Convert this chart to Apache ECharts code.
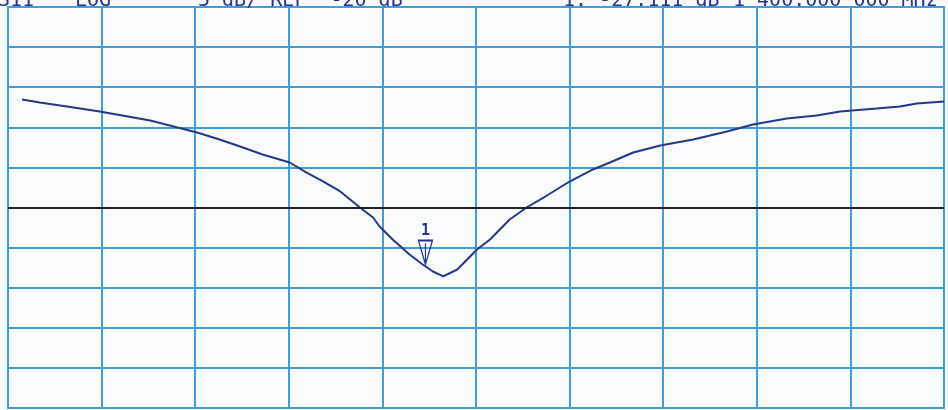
<!DOCTYPE html>
<html>
<head>
<meta charset="utf-8">
<script src="https://cdn.jsdelivr.net/npm/echarts@6/dist/echarts.min.js"></script>
<style>
  html, body { margin: 0; padding: 0; background: #f9fbfd; }
  #chart { width: 948px; height: 410px; }
</style>
</head>
<body>
<div id="chart"></div>
<script>
// horizontal position in graticule divisions (0..10), level in dB
var traceX = [0.15, 0.34, 0.63, 0.98, 1.52, 2.02, 2.26, 2.48, 2.72, 3.01, 3.19, 3.37, 3.55, 3.76, 3.90,
  3.97, 4.11, 4.29, 4.43, 4.54, 4.65, 4.80, 5.01, 5.15, 5.36, 5.54, 5.74, 6.00, 6.25, 6.43,
  6.68, 6.97, 7.32, 7.68, 7.96, 8.32, 8.64, 8.89, 9.28, 9.53, 9.71, 10.0];
var traceDb = [-6.53, -6.91, -7.41, -8.03, -9.15, -10.65, -11.52, -12.39, -13.39, -14.39, -15.64, -16.76, -18.0, -20.0, -21.25,
  -22.37, -23.99, -25.86, -27.11, -27.98, -28.6, -27.73, -25.24, -23.99, -21.5, -20.0, -18.63, -16.76, -15.26, -14.39,
  -13.14, -12.27, -11.52, -10.52, -9.65, -8.9, -8.53, -8.03, -7.66, -7.41, -7.03, -6.78];
var refLevel = -20;
var marker1 = [4.46, -27.111];
var headerTexts = [
  { text: 'S11', x: -2 },
  { text: 'LOG', x: 75 },
  { text: '5 dB/ REF  -20 dB', x: 198 },
  { text: '1: -27.111 dB', x: 563 },
  { text: '1 400.000 000 MHz', x: 733 }
];

var ink = '#24378a';
var gridBlue = '#3f9de0';

var chart = echarts.init(document.getElementById('chart'));

var pts = traceX.map(function (x, i) { return [x, traceDb[i]]; });

chart.setOption({
  backgroundColor: '#f9fbfd',
  animation: false,
  grid: {
    left: 8, right: 4, top: 7, bottom: 2,
    show: true,
    borderColor: gridBlue,
    borderWidth: 2
  },
  xAxis: {
    type: 'value',
    min: 0, max: 10, interval: 1,
    axisLine: { show: false },
    axisTick: { show: false },
    axisLabel: { show: false },
    splitLine: { lineStyle: { color: gridBlue, width: 2 } }
  },
  yAxis: {
    type: 'value',
    min: -45, max: 5, interval: 5,
    axisLine: { show: false },
    axisTick: { show: false },
    axisLabel: { show: false },
    splitLine: { lineStyle: { color: gridBlue, width: 2 } }
  },
  graphic: headerTexts.map(function (h) {
    return {
      type: 'text',
      left: h.x,
      top: -9,
      style: {
        text: h.text,
        font: '20px "DejaVu Sans Mono", monospace',
        fill: ink
      },
      z: 10
    };
  }),
  series: [{
    type: 'line',
    data: pts,
    showSymbol: false,
    smooth: false,
    lineStyle: { color: ink, width: 2 },
    markLine: {
      silent: true,
      symbol: ['none', 'none'],
      label: { show: false },
      lineStyle: { color: '#222', width: 2, type: 'solid' },
      data: [{ yAxis: refLevel }]
    },
    markPoint: {
      symbol: 'path://M0,0 L14,0 L7,24 Z M7,3 L7,24',
      symbolSize: [14, 24],
      symbolOffset: [0, -12],
      itemStyle: { color: 'rgba(0,0,0,0)', borderColor: ink, borderWidth: 1.5 },
      label: {
        show: true,
        position: 'top',
        distance: 1,
        formatter: '1',
        color: ink,
        fontFamily: 'DejaVu Sans Mono',
        fontSize: 15,
        fontWeight: 'bold'
      },
      data: [{ coord: marker1 }]
    }
  }]
});
</script>
</body>
</html>
